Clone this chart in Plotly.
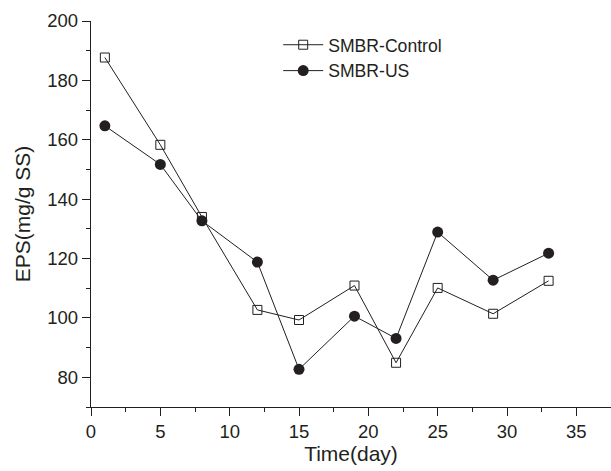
import plotly.graph_objects as go

days = [1, 5, 8, 12, 15, 19, 22, 25, 29, 33]
control = [187.7, 158.3, 134.0, 102.7, 99.3, 110.9, 84.9, 110.1, 101.4, 112.5]
us = [164.7, 151.7, 132.7, 118.8, 82.7, 100.6, 93.1, 128.9, 112.7, 121.8]

x_ticks = [0, 5, 10, 15, 20, 25, 30, 35]
y_ticks = [80, 100, 120, 140, 160, 180, 200]

ink = "#231f20"
font_family = "Liberation Sans, Arial, sans-serif"

fig = go.Figure()
fig.add_trace(go.Scatter(
    x=days, y=control, name="SMBR-Control", mode="lines+markers",
    line=dict(color=ink, width=1),
    marker=dict(symbol="square-open", size=9, color=ink, line=dict(width=1, color=ink)),
))
fig.add_trace(go.Scatter(
    x=days, y=us, name="SMBR-US", mode="lines+markers",
    line=dict(color=ink, width=1),
    marker=dict(symbol="circle", size=11, color=ink),
))

axis_common = dict(
    showline=True, linecolor=ink, linewidth=1.3, mirror=False,
    ticks="outside", ticklen=8, tickwidth=1.2, tickcolor=ink,
    showgrid=False, zeroline=False,
    tickfont=dict(family=font_family, size=18.5, color=ink),
)

fig.update_xaxes(
    range=[0, 37.5], tickvals=x_ticks, ticktext=[str(v) for v in x_ticks],
    title=dict(text="Time(day)", font=dict(family=font_family, size=21, color=ink), standoff=4),
    minor=dict(ticks="outside", ticklen=4, tickwidth=1, tickcolor=ink, dtick=2.5, tick0=0),
    **axis_common,
)
fig.update_yaxes(
    range=[70, 200], tickvals=y_ticks, ticktext=[str(v) for v in y_ticks],
    title=dict(text="EPS(mg/g SS)", font=dict(family=font_family, size=21, color=ink), standoff=10),
    minor=dict(ticks="outside", ticklen=4, tickwidth=1, tickcolor=ink, dtick=10, tick0=0),
    **axis_common,
)

fig.update_layout(
    width=611, height=471,
    margin=dict(l=91, r=0, t=21, b=64),
    paper_bgcolor="white", plot_bgcolor="white",
    font=dict(family=font_family, color=ink),
    showlegend=True,
    legend=dict(
        x=0.36, y=0.985, xanchor="left", yanchor="top",
        font=dict(family=font_family, size=17.6, color=ink),
        bgcolor="rgba(0,0,0,0)", borderwidth=0, itemwidth=40,
        tracegroupgap=0,
    ),
)

fig.write_html(
    "out.html",
    config={"displayModeBar": False},
    post_script="document.body.style.margin='0';",
)
